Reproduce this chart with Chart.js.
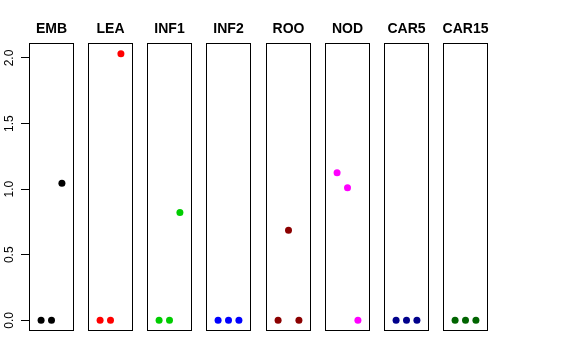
<!DOCTYPE html>
<html>
<head>
<meta charset="utf-8">
<script src="https://cdn.jsdelivr.net/npm/chart.js@4/dist/chart.umd.min.js"></script>
<style>
  body { margin: 0; background: #fff; }
  #wrap { position: relative; width: 576px; height: 360px; }
  #wrap canvas { position: absolute; top: 0; }
</style>
</head>
<body>
<div id="wrap"></div>
<script>
// panels and their three values (x positions 1..3)
const panels = ['EMB', 'LEA', 'INF1', 'INF2', 'ROO', 'NOD', 'CAR5', 'CAR15'];
const positions = [1, 2, 3];
const EMB = [0, 0, 1.045];
const LEA = [0, 0, 2.033];
const INF1 = [0, 0, 0.823];
const INF2 = [0, 0, 0];
const ROO = [0, 0.686, 0];
const NOD = [1.125, 1.011, 0];
const CAR5 = [0, 0, 0];
const CAR15 = [0, 0, 0];
const series = [EMB, LEA, INF1, INF2, ROO, NOD, CAR5, CAR15];
const colors = ['#000000', '#FF0000', '#00CD00', '#0000FF', '#8B0000', '#FF00FF', '#00008B', '#006400'];
const yTicks = [0, 0.5, 1, 1.5, 2];

// R-style 4% axis extension
const allVals = series.flat();
const yMin0 = Math.min(...allVals), yMax0 = Math.max(...allVals);
const yPad = (yMax0 - yMin0) * 0.04;
const xPad = 4 * 0.04;

const FONT = '"Liberation Sans", Arial, Helvetica, sans-serif';
const AXIS_W = 29;
const PANEL_W = 45;
const SIDE = 7; // spare room so titles are not squeezed

const boxPlugin = {
  id: 'box',
  afterDraw(chart) {
    const a = chart.chartArea, ctx = chart.ctx;
    ctx.save();
    ctx.strokeStyle = '#000';
    ctx.lineWidth = 1;
    ctx.strokeRect(Math.round(a.left) + 0.5, Math.round(a.top) + 0.5,
      Math.round(a.right - a.left) - 1, Math.round(a.bottom - a.top) - 1);
    ctx.restore();
  }
};

const yLabelPlugin = {
  id: 'ylabels',
  afterDraw(chart) {
    const s = chart.scales.y, ctx = chart.ctx;
    ctx.save();
    ctx.font = '12px ' + FONT;
    ctx.fillStyle = '#000';
    ctx.textAlign = 'center';
    ctx.textBaseline = 'alphabetic';
    yTicks.forEach(v => {
      ctx.save();
      ctx.translate(13, s.getPixelForValue(v));
      ctx.rotate(-Math.PI / 2);
      ctx.fillText(v.toFixed(1), 0, 0);
      ctx.restore();
    });
    ctx.restore();
  }
};

const wrap = document.getElementById('wrap');

panels.forEach((name, i) => {
  const first = i === 0;
  const left = Math.round(AXIS_W + 59.14 * i);
  const leftW = first ? AXIS_W : SIDE;
  const canvas = document.createElement('canvas');
  const w = leftW + PANEL_W + SIDE;
  canvas.width = w;
  canvas.height = 360;
  canvas.style.left = (left - leftW) + 'px';
  canvas.style.width = w + 'px';
  canvas.style.height = '360px';
  wrap.appendChild(canvas);

  new Chart(canvas.getContext('2d'), {
    type: 'scatter',
    data: {
      datasets: [{
        data: positions.map((p, j) => ({ x: p, y: series[i][j] })),
        backgroundColor: colors[i],
        pointRadius: 3.5,
        pointHoverRadius: 3.5,
        borderWidth: 0,
        clip: false
      }]
    },
    options: {
      responsive: false,
      devicePixelRatio: 1,
      animation: false,
      layout: { autoPadding: false, padding: { left: 0, right: 0, top: 0, bottom: 29 } },
      plugins: {
        legend: { display: false },
        tooltip: { enabled: false },
        title: {
          display: true,
          fullSize: !first,
          text: name,
          color: '#000',
          font: { family: FONT, size: 14, weight: 'bold', lineHeight: 1.2 },
          padding: { top: 20.7, bottom: 5.5 }
        }
      },
      scales: {
        x: {
          type: 'linear',
          display: false,
          min: 0 - xPad,
          max: 4 + xPad
        },
        y: {
          type: 'linear',
          position: 'left',
          min: yMin0 - yPad,
          max: yMax0 + yPad,
          afterBuildTicks(scale) { scale.ticks = yTicks.map(v => ({ value: v })); },
          afterFit(scale) { scale.width = leftW; },
          ticks: { display: false },
          border: { display: false },
          grid: {
            display: first,
            drawOnChartArea: false,
            drawTicks: true,
            tickLength: 8,
            tickColor: '#000',
            color: '#000'
          }
        },
        yr: {
          type: 'linear',
          position: 'right',
          afterFit(scale) { scale.width = SIDE; },
          ticks: { display: false },
          border: { display: false },
          grid: { display: false }
        }
      }
    },
    plugins: first ? [boxPlugin, yLabelPlugin] : [boxPlugin]
  });
});
</script>
</body>
</html>
